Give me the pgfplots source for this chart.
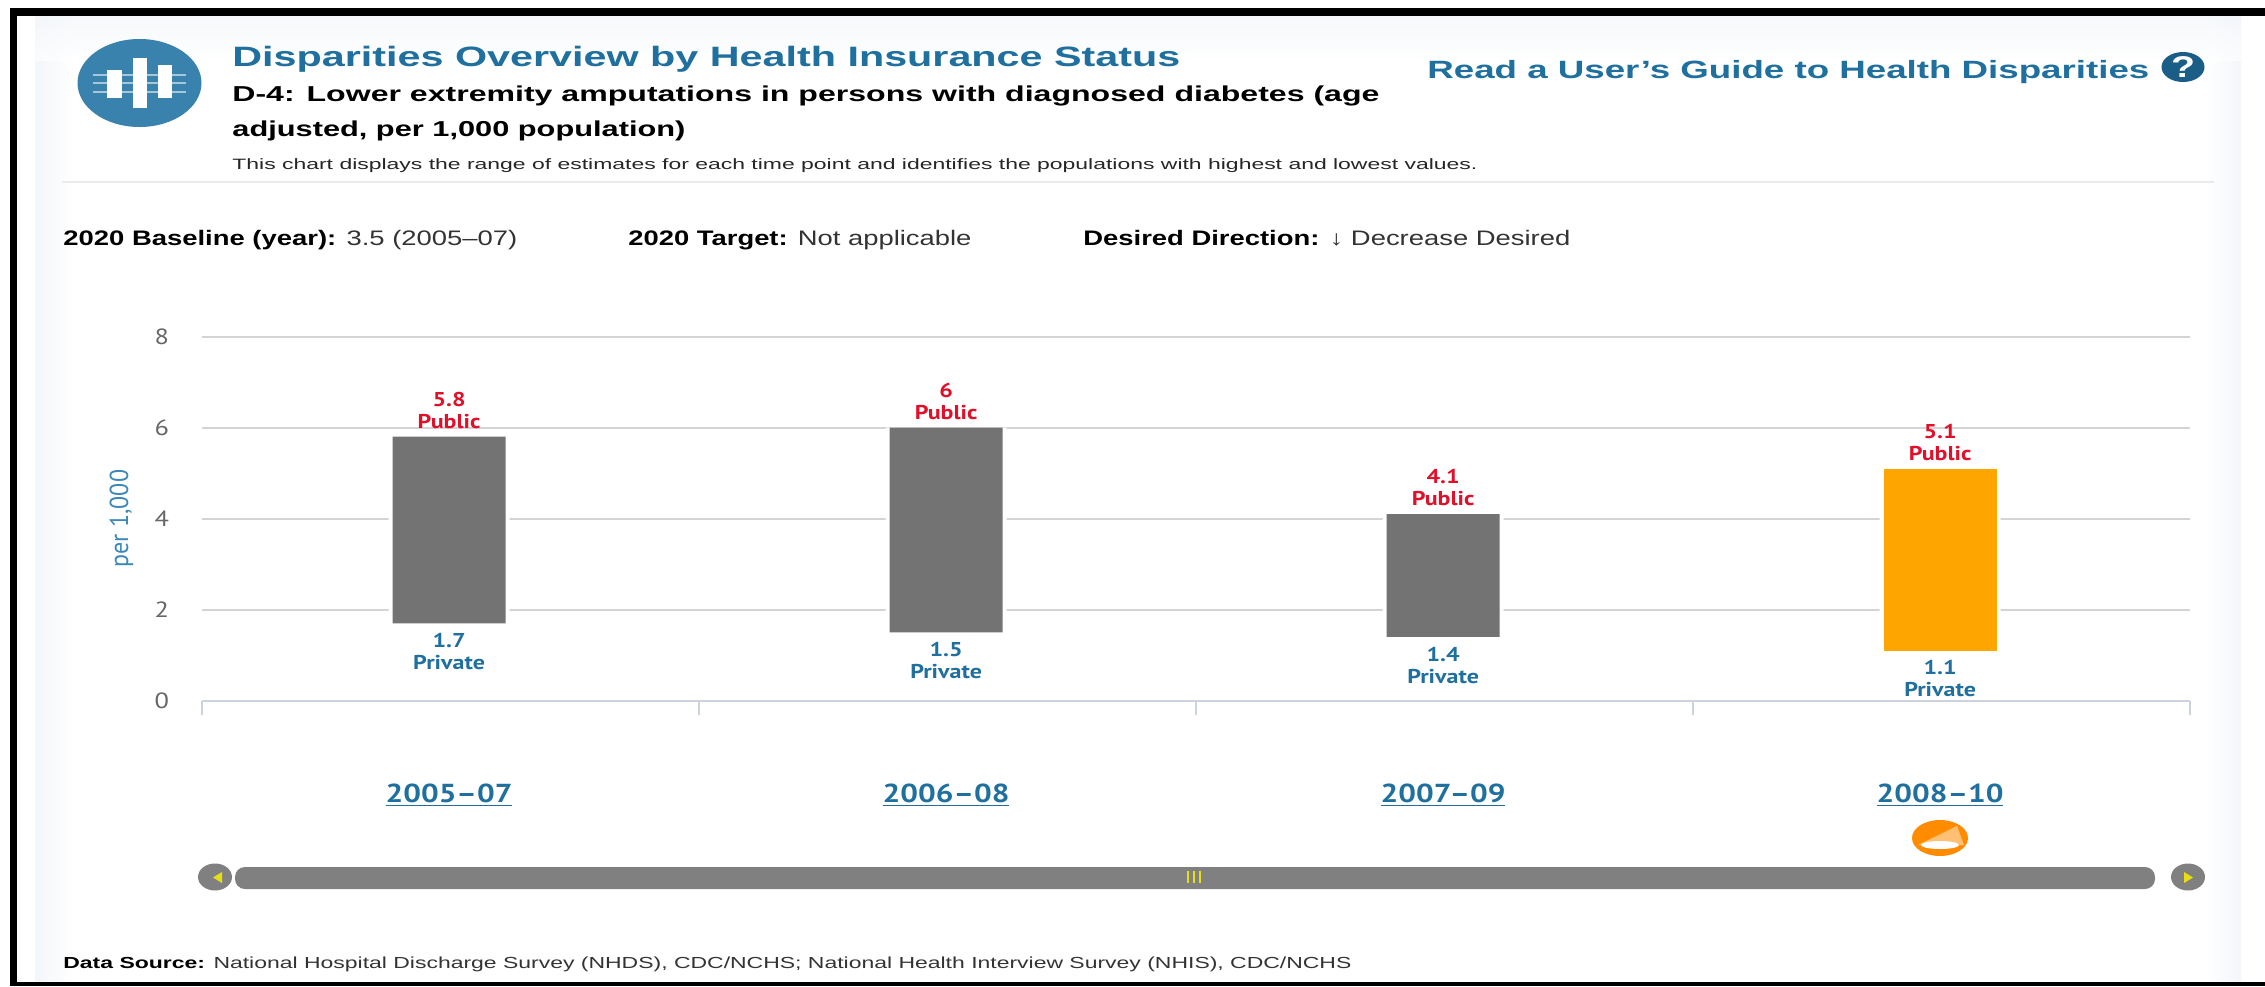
\documentclass[border=0pt]{standalone}
\usepackage{graphicx}
\usepackage{fontspec}
\usepackage{pgfplots}
\usepackage{pgfplotstable}
\pgfplotsset{compat=1.18}
\setmainfont{Liberation Sans}
\newfontfamily\chartfont[FakeStretch=1.2]{PT Sans}

\definecolor{panel}{HTML}{F3F6FA}
\definecolor{headblue}{HTML}{1F6F9F}
\definecolor{iconblue}{HTML}{3A82AE}
\definecolor{labelblue}{HTML}{1F6F9F}
\definecolor{axisblue}{HTML}{3A88B8}
\definecolor{pubred}{HTML}{E0102A}
\definecolor{barorange}{HTML}{FFA500}
\definecolor{bargray}{HTML}{737373}
\definecolor{gridgray}{HTML}{D4D4D4}
\definecolor{baseaxis}{HTML}{CDD3DE}
\definecolor{badge}{HTML}{FF8C00}

% Insurance-status range for each period: lowest (Private), highest (Public)
\pgfplotstableread{
x low high spread grayspan orangespan
0 1.7 5.8 4.1 4.1 0
1 1.5 6.0 4.5 4.5 0
2 1.4 4.1 2.7 2.7 0
3 1.1 5.1 4.0 0   4.0
}\rangetable

\pgfplotsset{
  rangeframe/.style={
    scale only axis, width=994pt, height=182pt,
    xmin=-0.5, xmax=3.5, ymin=0, ymax=8,
    at={(101pt,-350.3pt)}, anchor=south west,
    /pgf/number format/assume math mode=true,
  },
  rangelabel/.style={
    draw=none, mark=none, point meta=y,
    every node near coord/.append style={
      align=center, text=#1,
      font=\chartfont\bfseries\fontsize{10}{11}\selectfont},
  },
}

% Text set to a given width in pixels of the page grid
\newcommand{\fit}[2]{\resizebox{\dimexpr #1pt/2\relax}{\height}{#2}}

\begin{document}
\begin{tikzpicture}[x=0.5pt,y=-0.5pt]
\path[use as bounding box] (0,0) rectangle (2265,986);
\fill[white] (0,0) rectangle (2265,986);
% Panel with soft edges
\shade[left color=panel,right color=white] (35,16) rectangle (75,982);
\shade[left color=white,right color=panel] (2205,16) rectangle (2241,982);
\shade[top color=panel,bottom color=white,opacity=0.7] (35,16) rectangle (2241,60);
\draw[black!8,line width=1pt] (62,182) -- (2214,182);

% Header icon
\fill[iconblue] (139.5,83) ellipse[x radius=62,y radius=44];
\foreach \yy in {75,83,92}{\draw[white!55!iconblue,line width=1pt] (93,\yy) -- (186,\yy);}
\fill[white] (107,70) rectangle (122,98);
\fill[white] (133,58) rectangle (147,108);
\fill[white] (158,65) rectangle (172,98);

% Header text
\node[anchor=base west,inner sep=0,text=headblue] at (232,66.5)
  {\fontsize{14}{14}\selectfont\fit{948}{\textbf{Disparities Overview by Health Insurance Status}}};
\node[anchor=base west,inner sep=0] at (232,101.5)
  {\fontsize{10.8}{12}\selectfont\fit{1147}{\textbf{D-4: Lower extremity amputations in persons with diagnosed diabetes (age}}};
\node[anchor=base west,inner sep=0] at (232,136.5)
  {\fontsize{10.8}{12}\selectfont\fit{453}{\textbf{adjusted, per 1,000 population)}}};
\node[anchor=base west,inner sep=0,text=black!85] at (232,169)
  {\fontsize{7.5}{8}\selectfont\fit{1245}{This chart displays the range of estimates for each time point and identifies the populations with highest and lowest values.}};
\node[anchor=base west,inner sep=0,text=headblue] at (1427,78.5)
  {\fontsize{12.5}{13}\selectfont\fit{722}{\textbf{Read a User{\char39}s Guide to Health Disparities}}};
\fill[headblue!85!black] (2183,67) ellipse[x radius=21.5,y radius=15];
\node[text=white,inner sep=0] at (2183,67) {\fontsize{15}{15}\selectfont\resizebox{12pt}{\height}{\textbf{?}}};

% Baseline, target and direction line
\node[anchor=base west,inner sep=0,text=black!80] at (63,245)
  {\fontsize{10.5}{11}\selectfont\fit{454}{\textcolor{black}{\textbf{2020 Baseline (year):}} 3.5 (2005–07)}};
\node[anchor=base west,inner sep=0,text=black!80] at (628,245)
  {\fontsize{10.5}{11}\selectfont\fit{343}{\textcolor{black}{\textbf{2020 Target:}} Not applicable}};
\node[anchor=base west,inner sep=0,text=black!80] at (1083,245)
  {\fontsize{10.5}{11}\selectfont\fit{487}{\textcolor{black}{\textbf{Desired Direction:}} ↓ Decrease Desired}};

% Frame, gridlines and white clearance behind the bars
\begin{axis}[rangeframe,
  ybar stacked, bar width=60.5pt, bar shift=-0.7pt,
  axis x line=bottom, axis y line=left,
  x axis line style={-,draw=baseaxis,line width=1pt},
  y axis line style={-,draw=none},
  ymajorgrids, grid style={gridgray,line width=0.9pt},
  ytick={0,2,4,6,8},
  xtick={0,1,2,3},
  xticklabels={\underline{2005–07},\underline{2006–08},\underline{2007–09},\underline{2008–10}},
  major tick length=0pt,
  extra x ticks={-0.5,0.5,1.5,2.5,3.5},
  extra x tick labels={},
  extra x tick style={major tick length=7pt,tick align=outside,
    tick style={draw=baseaxis,line width=1pt}},
  ticklabel style={font=\chartfont\fontsize{11}{11}\selectfont},
  yticklabel style={text=black!60,xshift=-13pt},
  xticklabel style={text=labelblue,yshift=-38pt,xshift=-0.7pt,
    font=\chartfont\bfseries\fontsize{13}{13}\selectfont},
  ylabel={\scalebox{1}[1.3]{per 1,000}},
  ylabel style={at={(axis description cs:-0.0405,0.5)},anchor=center,
    text=axisblue,font=\chartfont\fontsize{10}{10}\selectfont},
]
\addplot[draw=none,fill=none] table[x=x,y=low] {\rangetable};
\addplot[draw=none,fill=white] table[x=x,y=spread] {\rangetable};
\end{axis}

% Range bars: the latest period is highlighted
\begin{axis}[rangeframe, hide axis,
  ybar stacked, bar width=56.5pt, bar shift=-0.7pt]
\addplot[draw=none,fill=none] table[x=x,y=low] {\rangetable};
\addplot[draw=none,fill=bargray] table[x=x,y=grayspan] {\rangetable};
\addplot[draw=none,fill=barorange] table[x=x,y=orangespan] {\rangetable};
\end{axis}

% Highest and lowest estimates with the group they belong to
\begin{axis}[rangeframe, hide axis, clip=false]
\addplot[rangelabel=pubred,
  nodes near coords={\pgfmathprintnumber{\pgfplotspointmeta}\\Public},
  nodes near coords align={anchor=south,yshift=0.5pt,xshift=-0.7pt}]
  table[x=x,y=high] {\rangetable};
\addplot[rangelabel=labelblue,
  nodes near coords={\pgfmathprintnumber{\pgfplotspointmeta}\\Private},
  nodes near coords align={anchor=north,yshift=-1.5pt,xshift=-0.7pt}]
  table[x=x,y=low] {\rangetable};
\end{axis}

% Badge under the latest period
\fill[badge] (1940,838) ellipse[x radius=28,y radius=18];
\fill[white!45!badge] (1918,845) -- (1957,826) -- (1964,845) -- cycle;
\fill[white] (1940,845) ellipse[x radius=19,y radius=4];

% Period scroller
\fill[black!50] (215,877) ellipse[x radius=17,y radius=13.5];
\fill[black!50] (2188,877) ellipse[x radius=17,y radius=13.5];
\fill[black!50,rounded corners=5pt] (235,867) rectangle (2155,889);
\fill[yellow!90!black] (222,872) -- (213,877.5) -- (222,883) -- cycle;
\fill[yellow!90!black] (2184,872) -- (2193,877.5) -- (2184,883) -- cycle;
\foreach \xx in {1188,1194,1200}{\draw[yellow!90!black,line width=0.8pt] (\xx,871) -- (\xx,883);}

% Data source line
\node[anchor=base west,inner sep=0,text=black!80] at (63,968)
  {\fontsize{8}{9}\selectfont\fit{1288}{\textcolor{black}{\textbf{Data Source:}} National Hospital Discharge Survey (NHDS), CDC/NCHS; National Health Interview Survey (NHIS), CDC/NCHS}};

% Outer black rule
\fill[black] (10,8) rectangle (2265,16);
\fill[black] (10,8) rectangle (17,986);
\fill[black] (10,982) rectangle (2265,986);
\end{tikzpicture}
\end{document}
